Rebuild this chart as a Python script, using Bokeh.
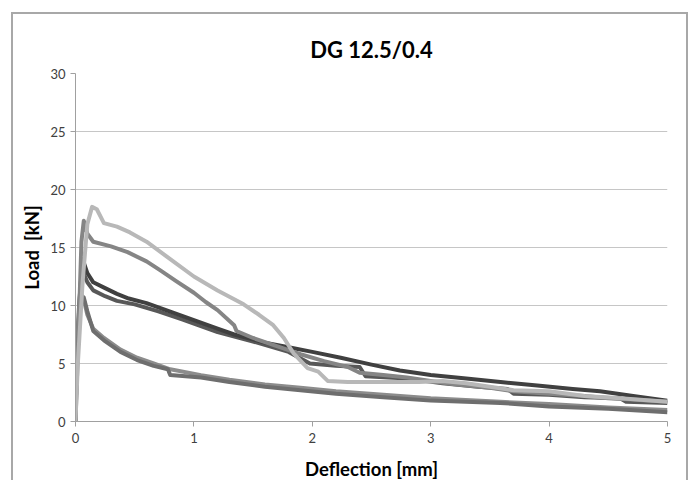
from bokeh.plotting import figure
from bokeh.models import Range1d, FixedTicker
from bokeh.embed import file_html
from bokeh.resources import INLINE

# ---- data ----
light_x = [0, 0.02, 0.06, 0.1, 0.14, 0.18, 0.24, 0.35, 0.46, 0.6, 0.8, 1.0, 1.2, 1.42, 1.55, 1.67, 1.76, 1.84, 1.96, 2.05, 2.13, 2.3, 2.6, 2.9, 3.1, 3.3, 3.5, 3.7, 4.0, 4.3, 4.6, 5.0]
light_y = [0, 5, 12, 17, 18.5, 18.3, 17.1, 16.8, 16.3, 15.5, 14.0, 12.5, 11.3, 10.1, 9.2, 8.3, 7.2, 5.9, 4.6, 4.3, 3.5, 3.4, 3.4, 3.4, 3.5, 3.3, 3.0, 2.7, 2.6, 2.2, 2.0, 1.7]

mid_x = [0, 0.02, 0.05, 0.07, 0.1, 0.15, 0.3, 0.44, 0.6, 0.72, 0.85, 1.0, 1.1, 1.2, 1.34, 1.36, 1.5, 1.7, 1.9, 2.1, 2.3, 2.4, 2.6, 2.8, 3.0, 3.2, 3.5, 3.7, 4.0, 4.3, 4.5, 4.7, 5.0]
mid_y = [0, 6, 15.5, 17.3, 16.2, 15.5, 15.1, 14.6, 13.8, 13.0, 12.1, 11.1, 10.3, 9.6, 8.3, 7.8, 7.2, 6.5, 5.8, 5.2, 4.7, 4.2, 4.0, 3.8, 3.5, 3.2, 2.9, 2.6, 2.4, 2.2, 2.0, 1.9, 1.7]

dark1_x = [0, 0.01, 0.03, 0.06, 0.1, 0.15, 0.25, 0.35, 0.45, 0.6, 0.9, 1.2, 1.34, 1.6, 1.8, 2.0, 2.24, 2.5, 2.74, 3.0, 3.3, 3.59, 3.9, 4.2, 4.43, 4.71, 5.0]
dark1_y = [0, 5, 10, 14, 12.8, 12.0, 11.5, 11.0, 10.6, 10.2, 9.1, 8.0, 7.5, 6.8, 6.4, 6.0, 5.5, 4.9, 4.4, 4.0, 3.7, 3.4, 3.1, 2.8, 2.6, 2.2, 1.8]

dark2_x = [0, 0.01, 0.03, 0.06, 0.1, 0.15, 0.25, 0.35, 0.5, 0.7, 0.9, 1.2, 1.5, 1.8, 1.98, 2.2, 2.4, 2.45, 2.8, 3.1, 3.4, 3.65, 3.7, 4.0, 4.3, 4.6, 4.65, 5.0]
dark2_y = [0, 4, 9, 13, 12, 11.3, 10.8, 10.4, 10.1, 9.5, 8.8, 7.7, 6.9, 6.0, 5.0, 4.8, 4.7, 3.9, 3.7, 3.3, 3.0, 2.8, 2.4, 2.3, 2.1, 2.0, 1.7, 1.6]

low1_x = [0, 0.01, 0.04, 0.07, 0.1, 0.15, 0.24, 0.38, 0.52, 0.66, 0.78, 0.8, 1.06, 1.3, 1.6, 1.9, 2.2, 2.6, 3.0, 3.59, 4.0, 4.5, 5.0]
low1_y = [0, 5, 10, 10.7, 9.5, 7.8, 7.0, 6.0, 5.3, 4.8, 4.5, 4.0, 3.8, 3.4, 3.0, 2.7, 2.4, 2.1, 1.8, 1.6, 1.3, 1.1, 0.8]

low2_x = [0, 0.01, 0.04, 0.07, 0.1, 0.15, 0.24, 0.38, 0.52, 0.66, 0.8, 1.06, 1.3, 1.6, 1.9, 2.2, 2.6, 3.0, 3.59, 4.0, 4.5, 5.0]
low2_y = [0, 6, 11.2, 10.5, 9.2, 8.0, 7.2, 6.2, 5.5, 5.0, 4.5, 4.0, 3.6, 3.2, 2.9, 2.6, 2.3, 2.0, 1.7, 1.5, 1.2, 1.0]

x_ticks = [0, 1, 2, 3, 4, 5]
y_ticks = [0, 5, 10, 15, 20, 25, 30]

FONT = "Lato"

p = figure(width=677, height=468, output_backend="svg", toolbar_location=None,
           x_range=Range1d(0, 5), y_range=Range1d(0, 30),
           min_border_left=62, min_border_right=23, min_border_top=59, min_border_bottom=61)
p.styles = {"margin-left": "11px", "margin-top": "12px",
            "border-left": "2px solid #a8a8a8", "border-top": "2px solid #a8a8a8",
            "border-right": "2px solid #a8a8a8"}

p.title.text = "DG 12.5/0.4"
p.title.align = "center"
p.title.offset = 11
p.title.standoff = 21
p.title.text_font = FONT
p.title.text_font_size = "22px"
p.title.text_font_style = "bold"
p.title.text_color = "#000000"

p.outline_line_color = None
p.xgrid.grid_line_color = None
p.ygrid.grid_line_color = "#c6c6c6"
p.ygrid.grid_line_width = 1

for ax in (p.xaxis[0], p.yaxis[0]):
    ax.axis_line_color = "#a0a0a0"
    ax.major_tick_line_color = "#a0a0a0"
    ax.major_tick_out = 5
    ax.major_tick_in = 0
    ax.minor_tick_line_color = None
    ax.major_label_text_font = FONT
    ax.major_label_text_font_size = "13px"
    ax.major_label_text_color = "#404040"
    ax.axis_label_text_font = FONT
    ax.axis_label_text_font_size = "18.5px"
    ax.axis_label_text_font_style = "bold"
    ax.axis_label_text_color = "#000000"

p.xaxis.ticker = FixedTicker(ticks=x_ticks)
p.yaxis.ticker = FixedTicker(ticks=y_ticks)
p.xaxis.axis_label = "Deflection [mm]"
p.yaxis.axis_label = "Load \u00a0[kN]"
p.xaxis.major_label_standoff = 6
p.yaxis.major_label_standoff = 5
p.xaxis.axis_label_standoff = 12
p.yaxis.axis_label_standoff = 4

W = 4
p.line(dark2_x, dark2_y, line_color="#585858", line_width=W, line_join="round")
p.line(dark1_x, dark1_y, line_color="#404040", line_width=W, line_join="round")
p.line(low2_x, low2_y, line_color="#8c8c8c", line_width=W, line_join="round")
p.line(low1_x, low1_y, line_color="#6e6e6e", line_width=W, line_join="round")
p.line(mid_x, mid_y, line_color="#858585", line_width=W, line_join="round")
p.line(light_x, light_y, line_color="#b8b8b8", line_width=W, line_join="round")

open("out.html", "w").write(file_html(p, INLINE))
